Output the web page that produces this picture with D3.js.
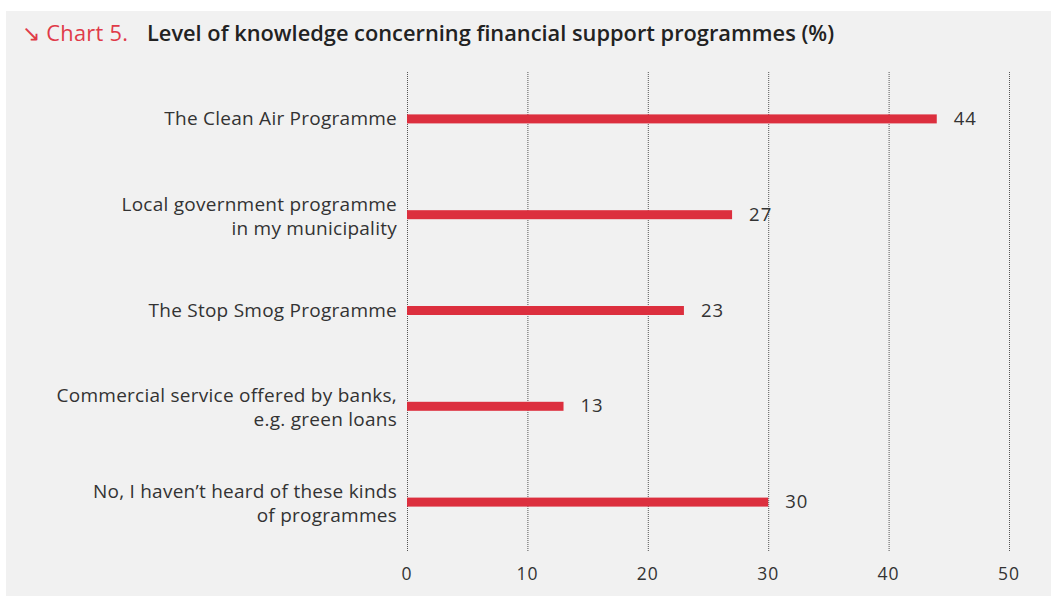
<!DOCTYPE html>
<html lang="en">
<head>
<meta charset="UTF-8">
<title>Chart 5</title>
<script src="https://d3js.org/d3.v7.min.js"></script>
<style>
  body { margin: 0; background: #fff; }
  svg { display: block; }
</style>
</head>
<body>
<script>
  // data
  const categories = [
    ['The Clean Air Programme'],
    ['Local government programme', 'in my municipality'],
    ['The Stop Smog Programme'],
    ['Commercial service offered by banks,', 'e.g. green loans'],
    ['No, I haven\u2019t heard of these kinds', 'of programmes']
  ];
  const values = [44, 27, 23, 13, 30];
  const ticks = [0, 10, 20, 30, 40, 50];

  const W = 1051, H = 596;
  const font = '"Open Sans", "Liberation Sans", sans-serif';

  const svg = d3.select('body').append('svg').attr('width', W).attr('height', H);

  svg.append('rect').attr('x', 6).attr('y', 11).attr('width', W - 6).attr('height', H - 11).attr('fill', '#f1f1f1');

  // title
  svg.append('text').attr('x', 22).attr('y', 41).attr('font-family', font).attr('font-size', 21.8)
    .attr('letter-spacing', 0.3).attr('fill', '#e03a48').text('\u2198 Chart 5.');
  svg.append('text').attr('x', 147).attr('y', 41)
    .attr('font-family', font).attr('font-size', 21.8).attr('font-weight', 600)
    .attr('fill', '#222').text('Level of knowledge concerning financial support programmes (%)');

  const x = d3.scaleLinear().domain([0, 50]).range([407, 1009]);
  const y = d3.scaleBand().domain(d3.range(values.length)).range([71, 550]).padding(0);

  // gridlines
  svg.append('g').selectAll('line').data(ticks).join('line')
    .attr('x1', d => x(d) + 0.5).attr('x2', d => x(d) + 0.5)
    .attr('y1', 72).attr('y2', 551)
    .attr('stroke', '#555').attr('stroke-width', 1).attr('stroke-dasharray', '1,1');

  // tick labels
  svg.append('g').selectAll('text').data(ticks).join('text')
    .attr('x', d => x(d)).attr('y', 580)
    .attr('text-anchor', 'middle').attr('font-family', font).attr('font-size', 17.5)
    .attr('letter-spacing', 1).attr('fill', '#333').text(d => d);

  // bars
  svg.append('g').selectAll('rect').data(values).join('rect')
    .attr('x', x(0)).attr('y', (d, i) => y(i) + y.bandwidth() / 2 - 4.5)
    .attr('width', d => x(d) - x(0)).attr('height', 9)
    .attr('fill', '#dc2f3e');

  // value labels
  svg.append('g').selectAll('text').data(values).join('text')
    .attr('x', d => x(d) + 17).attr('y', (d, i) => y(i) + y.bandwidth() / 2 + 6)
    .attr('font-family', font).attr('font-size', 18.5).attr('letter-spacing', 1)
    .attr('fill', '#333').text(d => d);

  // category labels (two-line labels sit with the bar between the lines)
  const cat = svg.append('g').selectAll('text').data(categories).join('text')
    .attr('text-anchor', 'end').attr('font-family', font).attr('font-size', 19).attr('letter-spacing', 0.25)
    .attr('fill', '#333')
    .attr('transform', (d, i) => `translate(397, ${y(i) + y.bandwidth() / 2 + (d.length > 1 ? -4 : 6)})`);
  cat.selectAll('tspan').data(d => d).join('tspan')
    .attr('x', 0).attr('dy', (d, j) => j === 0 ? 0 : 24).text(d => d);
</script>
</body>
</html>
